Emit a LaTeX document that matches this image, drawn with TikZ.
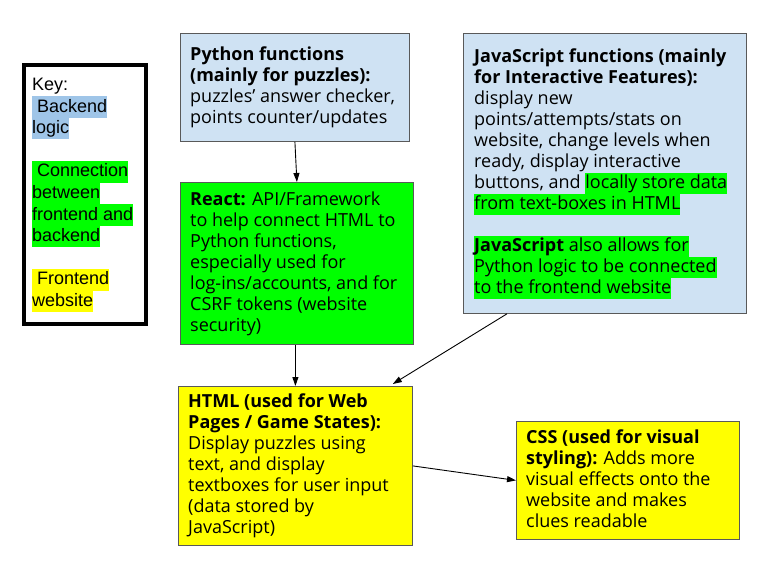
\documentclass[tikz,border=0pt]{standalone}
\usepackage{fontspec}
\setmainfont{Open Sans}
\newfontfamily\keyfont{Liberation Sans}
\usetikzlibrary{arrows.meta,calc}
\definecolor{boxblue}{HTML}{CFE2F3}
\definecolor{keyblue}{HTML}{9FC5E8}
\definecolor{hlgreen}{HTML}{00FF00}
\definecolor{hlyellow}{HTML}{FFFF00}
\definecolor{edgegray}{HTML}{595959}
\newcommand\boxstrut{\rule[-5.5pt]{0pt}{21pt}}
\newcommand\greenhl[1]{{\setlength{\fboxsep}{0pt}\colorbox{hlgreen}{\boxstrut #1}}}
\newcommand\keystrut{\rule[-5.8pt]{0pt}{21.6pt}}
\newcommand\keyhl[2]{{\setlength{\fboxsep}{0pt}\colorbox{#1}{\keystrut #2}}}
\tikzset{
  panel/.style={draw=edgegray, line width=0.8pt, anchor=north west, inner sep=0pt},
  paneltext/.style={anchor=west, inner sep=0pt, align=left, text=black,
    font=\fontsize{18}{21}\selectfont},
  arr/.style={-{Triangle[length=9pt,width=6pt]}, line width=0.9pt, black},
}
\begin{document}
\begin{tikzpicture}[x=1pt,y=-1pt]
\useasboundingbox (0,0) rectangle (778,580);
\fill[white] (0,0) rectangle (778,580);

% key
\node[draw=black, line width=4pt, fill=white, minimum width=122pt, minimum height=259pt,
      anchor=north west, inner sep=0pt] (key) at (22,63) {};
\node[anchor=north west, inner sep=0pt, align=left,
      font=\keyfont\fontsize{18}{21.6}\selectfont] (keytext) at (32,74.4)
  {\keystrut Key:\\
   \keyhl{keyblue}{\ Backend}\\
   \keyhl{keyblue}{logic}\\
   \keystrut\\
   \keyhl{hlgreen}{\ Connection}\\
   \keyhl{hlgreen}{between}\\
   \keyhl{hlgreen}{frontend and}\\
   \keyhl{hlgreen}{backend}\\
   \keystrut\\
   \keyhl{hlyellow}{\ Frontend}\\
   \keyhl{hlyellow}{website}};

% python
\node[panel, fill=boxblue, minimum width=229pt, minimum height=108pt] (py) at (180,33) {};
\node[paneltext] (pytext) at ($(py.west)+(10,0)$)
  {\boxstrut\textbf{Python functions}\\
   \textbf{(mainly for puzzles):}\\
   puzzles’ answer checker,\\
   points counter/updates\boxstrut};

% react
\node[panel, fill=hlgreen, minimum width=233pt, minimum height=162pt] (react) at (180,182) {};
\node[paneltext] (reacttext) at ($(react.west)+(10,0)$)
  {\boxstrut\textbf{React:} API/Framework\\
   to help connect HTML to\\
   Python functions,\\
   especially used for\\
   log-ins/accounts, and for\\
   CSRF tokens (website\\
   security)\boxstrut};

% javascript
\node[panel, fill=boxblue, minimum width=283pt, minimum height=280pt] (js) at (463,33) {};
\node[paneltext] (jstext) at ($(js.west)+(11,0)$)
  {\boxstrut\textbf{JavaScript functions (mainly}\\
   \textbf{for Interactive Features):}\\
   display new\\
   points/attempts/stats on\\
   website, change levels when\\
   ready, display interactive\\
   buttons, and \greenhl{locally store data}\\
   \greenhl{from text-boxes in HTML}\\
   \boxstrut\\
   \greenhl{\textbf{JavaScript} also allows for}\\
   \greenhl{Python logic to be connected}\\
   \greenhl{to the frontend website}};

% html
\node[panel, fill=hlyellow, minimum width=234pt, minimum height=159pt] (html) at (178,386) {};
\node[paneltext] (htmltext) at ($(html.west)+(10,0)$)
  {\boxstrut\textbf{HTML (used for Web}\\
   \textbf{Pages / Game States):}\\
   Display puzzles using\\
   text, and display\\
   textboxes for user input\\
   (data stored by\\
   JavaScript)\boxstrut};

% css
\node[panel, fill=hlyellow, minimum width=223pt, minimum height=118pt] (css) at (516,421) {};
\node[paneltext] (csstext) at ($(css.west)+(10,0)$)
  {\boxstrut\textbf{CSS (used for visual}\\
   \textbf{styling):} Adds more\\
   visual effects onto the\\
   website and makes\\
   clues readable\boxstrut};

% connectors
\draw[arr] (py.south) -- (react.north);
\draw[arr] (react.south -| html.north) -- (html.north);
\draw[arr] ($(js.south west)+(44,0)$) -- ($(html.north east)+(-20,-2)$);
\draw[arr] (html.east) -- (css.west);
\end{tikzpicture}
\end{document}
